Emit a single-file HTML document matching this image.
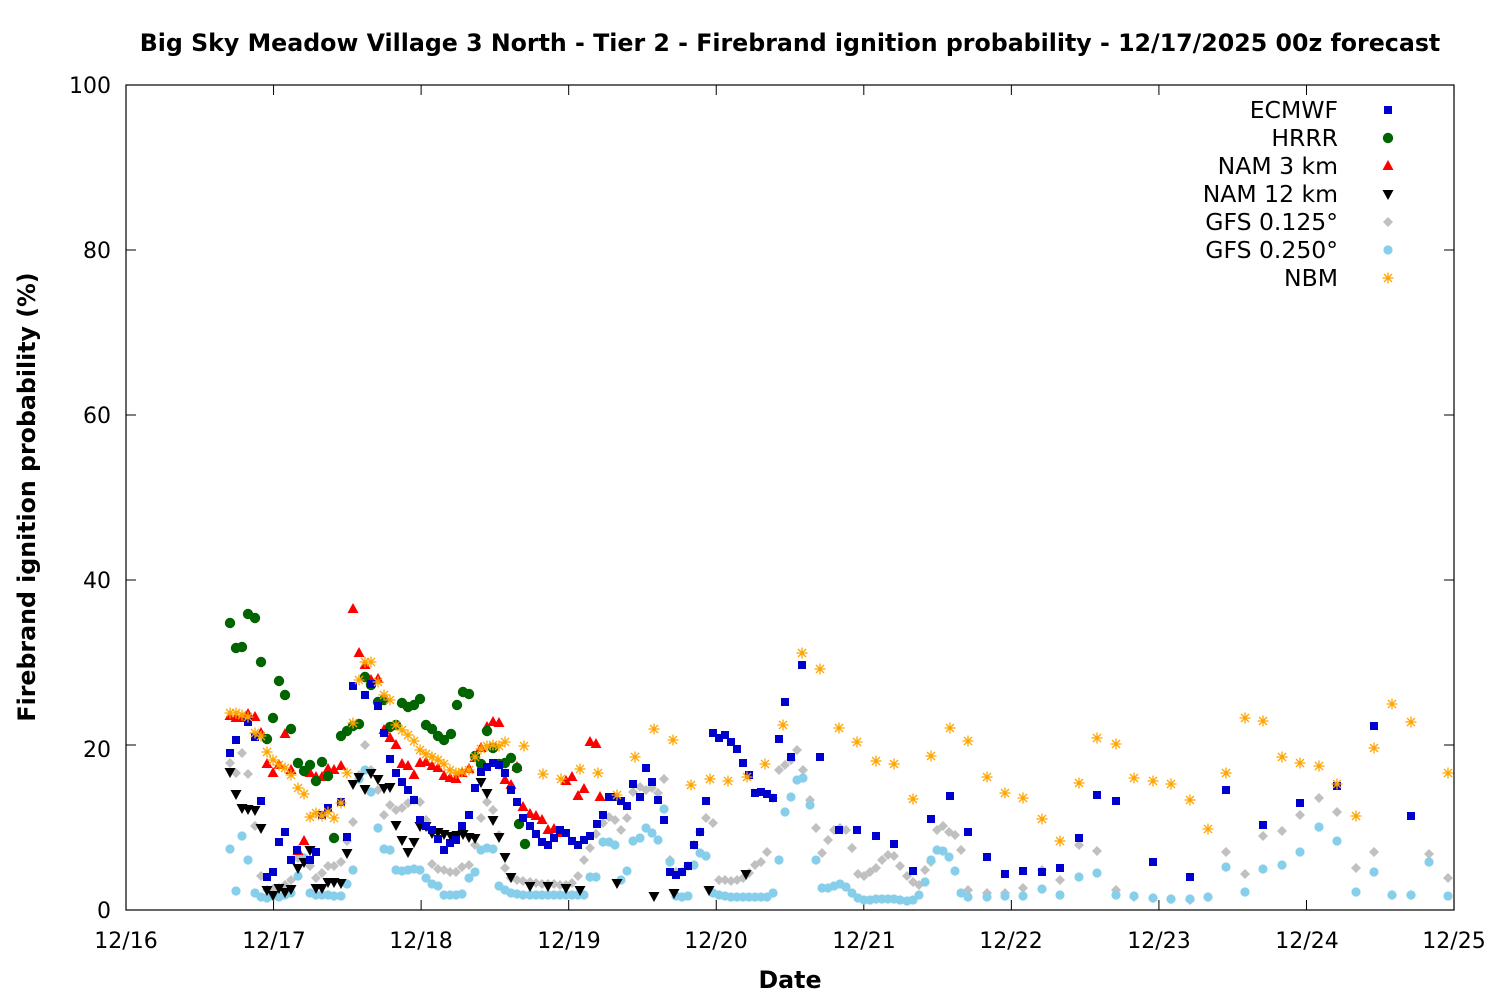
<!DOCTYPE html>
<html><head><meta charset="utf-8"><style>
html,body{margin:0;padding:0;background:#fff}
svg{display:block;font-family:"DejaVu Sans","Liberation Sans",sans-serif}
</style></head><body>
<svg id="s" width="1500" height="1000" xmlns="http://www.w3.org/2000/svg">
<rect width="1500" height="1000" fill="#fff"/>
<text x="790" y="51" text-anchor="middle" font-size="23.7" font-weight="bold">Big Sky Meadow Village 3 North - Tier 2 - Firebrand ignition probability - 12/17/2025 00z forecast</text>
<g font-size="22" text-anchor="end">
<text x="111" y="918">0</text><text x="111" y="757">20</text><text x="111" y="588">40</text><text x="111" y="423">60</text><text x="111" y="258">80</text><text x="111" y="93">100</text>
</g>
<g font-size="22" text-anchor="middle">
<text x="126" y="948">12/16</text><text x="274" y="948">12/17</text><text x="421" y="948">12/18</text><text x="569" y="948">12/19</text><text x="716" y="948">12/20</text><text x="864" y="948">12/21</text><text x="1011" y="948">12/22</text><text x="1159" y="948">12/23</text><text x="1307" y="948">12/24</text><text x="1454" y="948">12/25</text>
</g>
<text x="790" y="988" text-anchor="middle" font-size="23.7" font-weight="bold">Date</text>
<text transform="translate(35,497) rotate(-90)" text-anchor="middle" font-size="23.7" font-weight="bold">Firebrand ignition probability (%)</text>
<g font-size="23.5" text-anchor="end">
<text x="1338" y="118">ECMWF</text><text x="1338" y="146">HRRR</text><text x="1338" y="174">NAM 3 km</text><text x="1338" y="202">NAM 12 km</text><text x="1338" y="230">GFS 0.125°</text><text x="1338" y="258">GFS 0.250°</text><text x="1338" y="286">NBM</text>
</g>
<g id="ax" stroke="#000" stroke-width="1" fill="none"></g>
<g id="pts"></g>
<rect x="126" y="85" width="1328" height="825" fill="none" stroke="#000" stroke-width="1.2"/>
</svg>
<script>
var NS="http://www.w3.org/2000/svg";
function el(p,t,a){var e=document.createElementNS(NS,t);for(var k in a)e.setAttribute(k,a[k]);p.appendChild(e);return e;}
var ax=document.getElementById('ax');
for(var i=0;i<=9;i++){var x=126+i*147.56;el(ax,'line',{x1:x,y1:910,x2:x,y2:900});el(ax,'line',{x1:x,y1:85,x2:x,y2:95});}
for(var v=0;v<=100;v+=20){var y=910-v*8.25;el(ax,'line',{x1:126,y1:y,x2:136,y2:y});el(ax,'line',{x1:1454,y1:y,x2:1444,y2:y});}
var g=document.getElementById('pts');
function mk(t,x,y){
 if(t==0)el(g,'rect',{x:x-4,y:y-4,width:8,height:8,fill:'#0000cc'});
 else if(t==1)el(g,'circle',{cx:x,cy:y,r:5.2,fill:'#006400'});
 else if(t==2)el(g,'polygon',{points:(x)+','+(y-6)+' '+(x+5.5)+','+(y+4)+' '+(x-5.5)+','+(y+4),fill:'#ff0000'});
 else if(t==3)el(g,'polygon',{points:(x)+','+(y+6)+' '+(x+5.5)+','+(y-4)+' '+(x-5.5)+','+(y-4),fill:'#000'});
 else if(t==4)el(g,'polygon',{points:x+','+(y-5)+' '+(x+5)+','+y+' '+x+','+(y+5)+' '+(x-5)+','+y,fill:'#c0c0c0'});
 else if(t==5)el(g,'circle',{cx:x,cy:y,r:4.6,fill:'#87ceeb'});
 else {var s=5.5,c='#ffa500';el(g,'path',{d:'M'+(x-s)+' '+y+'H'+(x+s)+'M'+x+' '+(y-s)+'V'+(y+s)+'M'+(x-4)+' '+(y-4)+'L'+(x+4)+' '+(y+4)+'M'+(x-4)+' '+(y+4)+'L'+(x+4)+' '+(y-4),stroke:c,'stroke-width':1.3,fill:'none'});}
}
function P(s){return s.trim().split(/\s+/).map(function(p){return p.split(',').map(Number);});}
var D=[];
D[4]=P("230,763 236,773 242,753 248,774 255,826 261,876 267,890 273,889 279,888 285,885 291,880 298,858 304,858 310,866 316,878 322,873 328,866 334,866 341,862 347,841 353,822 359,775 365,745 371,770 378,790 384,815 390,805 396,810 402,808 408,803 414,800 420,802 426,820 432,864 438,869 444,870 450,872 456,872 462,867 469,865 475,845 481,818 487,802 493,810 499,835 505,868 511,878 517,880 523,881 530,882 536,883 542,884 548,884 554,884 560,885 566,885 572,883 578,876 584,860 590,848 596,834 603,823 609,817 615,820 621,830 627,818 633,792 640,787 646,790 652,788 658,793 664,779 670,860 676,872 682,872 688,866 694,845 700,832 706,818 713,823 719,880 725,880 731,881 737,880 743,878 749,873 755,865 761,862 767,852 773,798 779,770 785,765 791,760 797,750 803,770 810,800 816,828 822,853 828,840 834,830 840,828 846,830 852,848 858,874 864,876 870,872 876,868 882,860 888,855 894,856 900,866 907,876 913,882 919,885 925,870 931,862 937,830 943,826 949,832 955,835 961,850 968,890 987,893 1005,893 1023,888 1042,870 1060,880 1079,845 1097,851 1116,890 1134,897 1153,898 1171,899 1190,900 1208,897 1226,852 1245,874 1263,836 1282,831 1300,815 1319,798 1337,812 1356,868 1374,852 1392,895 1411,895 1429,854 1448,878");
D[5]=P("230,849 236,891 242,836 248,860 255,893 261,897 267,898 273,896 279,897 285,895 291,893 298,876 304,858 310,893 316,895 322,895 328,895 334,896 341,896 347,884 353,870 359,779 365,770 371,792 378,828 384,849 390,850 396,870 402,871 408,870 414,869 420,870 426,878 432,884 438,886 444,895 450,895 456,895 462,894 469,878 475,872 481,850 487,848 493,849 499,886 505,890 511,893 517,894 523,895 530,895 536,895 542,895 548,895 554,895 560,895 566,895 572,895 578,895 584,895 590,877 596,877 603,842 609,842 615,845 621,880 627,871 633,841 640,838 646,828 652,833 658,840 664,809 670,862 676,896 682,897 688,896 694,865 700,853 706,856 713,893 719,895 725,896 731,897 737,897 743,897 749,897 755,897 761,897 767,897 773,893 779,860 785,812 791,797 797,780 803,778 810,805 816,860 822,888 828,888 834,886 840,884 846,887 852,893 858,898 864,900 870,900 876,899 882,899 888,899 894,899 900,900 907,901 913,900 919,895 925,882 931,860 937,850 943,851 949,857 955,871 961,893 968,897 987,897 1005,896 1023,896 1042,889 1060,895 1079,877 1097,873 1116,895 1134,896 1153,898 1171,899 1190,899 1208,897 1226,867 1245,892 1263,869 1282,865 1300,852 1319,827 1337,841 1356,892 1374,872 1392,895 1411,895 1429,862 1448,896");
D[3]=P("230,772 236,794 242,808 248,809 255,810 261,828 267,890 273,895 279,888 285,892 291,889 298,868 304,862 310,850 316,888 322,888 328,882 334,882 341,883 347,853 353,784 359,777 365,789 371,773 378,779 384,788 390,787 396,825 402,840 408,852 414,842 420,826 426,826 432,833 438,832 444,834 451,836 457,835 463,834 469,837 475,838 481,782 487,793 493,820 499,837 505,857 511,877 530,886 548,886 566,888 580,890 617,883 654,896 674,893 709,890 746,874");
D[2]=P("230,716 236,718 242,718 248,714 255,717 261,733 267,764 273,773 279,765 285,734 291,770 298,851 304,841 310,773 316,777 322,777 328,769 334,770 341,766 353,609 359,653 365,665 371,680 378,679 384,730 390,738 396,745 402,764 408,766 414,775 420,763 426,762 432,766 438,768 444,776 450,778 456,779 462,773 469,769 475,758 481,748 487,727 493,722 499,723 505,780 511,785 517,767 523,807 530,814 536,816 542,820 548,830 554,829 560,833 566,781 572,777 578,796 584,789 590,742 596,744 600,797");
D[1]=P("230,623 236,648 242,647 248,614 255,618 261,662 267,739 273,718 279,681 285,695 291,729 298,763 304,771 310,765 316,781 322,762 328,776 334,838 341,736 347,731 353,726 359,724 365,677 371,685 378,702 384,700 390,727 396,725 402,703 408,707 414,705 420,699 426,725 432,729 438,736 444,740 451,734 457,705 463,692 469,694 475,756 481,764 487,731 493,748 499,764 505,763 511,758 517,768 519,824 525,844");
D[0]=P("230,753 236,740 248,722 255,737 261,801 267,877 273,872 279,842 285,832 291,860 297,850 310,860 316,852 322,815 328,808 341,802 347,837 353,686 365,695 371,684 378,706 384,733 390,759 396,773 402,782 408,790 414,800 420,820 426,826 432,830 438,839 444,850 450,843 456,840 462,826 469,815 475,788 481,772 487,767 493,763 499,765 505,773 511,790 517,802 523,818 530,826 536,834 542,842 548,845 554,838 560,830 566,833 572,841 578,845 584,840 590,836 597,824 603,815 609,797 615,797 621,801 627,806 633,784 640,797 646,768 652,782 658,800 664,820 670,872 676,875 682,872 688,866 694,845 700,832 706,801 713,733 719,738 725,735 731,742 737,749 743,763 749,775 755,793 761,792 767,794 773,798 779,739 785,702 791,757 802,665 820,757 839,830 857,830 876,836 894,844 913,871 931,819 950,796 968,832 987,857 1005,874 1023,871 1042,872 1060,868 1079,838 1097,795 1116,801 1153,862 1190,877 1226,790 1263,825 1300,803 1337,786 1374,726 1411,816");
D[6]=P("230,713 236,713 242,715 248,717 255,733 261,736 267,752 273,760 279,765 285,768 291,775 298,788 304,794 310,817 316,813 322,816 328,812 334,818 341,803 347,773 353,723 359,680 365,662 371,662 378,682 384,695 390,700 396,725 402,730 408,735 414,741 420,750 426,754 432,757 438,760 444,764 450,770 456,773 462,772 469,770 475,757 481,749 487,746 493,745 499,746 505,742 524,746 543,774 561,779 580,769 598,773 617,795 635,757 654,729 673,740 691,785 710,779 728,781 747,777 765,764 783,725 802,653 820,669 839,728 857,742 876,761 894,764 913,799 931,756 950,728 968,741 987,777 1005,793 1023,798 1042,819 1060,841 1079,783 1097,738 1116,744 1134,778 1153,781 1171,784 1190,800 1208,829 1226,773 1245,718 1263,721 1282,757 1300,763 1319,766 1337,784 1356,816 1374,748 1392,704 1411,722 1448,773");
[4,5,3,2,1,0,6].forEach(function(t){D[t].forEach(function(p){mk(t,p[0],p[1]);});});
for(var t=0;t<7;t++)mk(t,1388,110+t*28);
</script>
</body></html>
